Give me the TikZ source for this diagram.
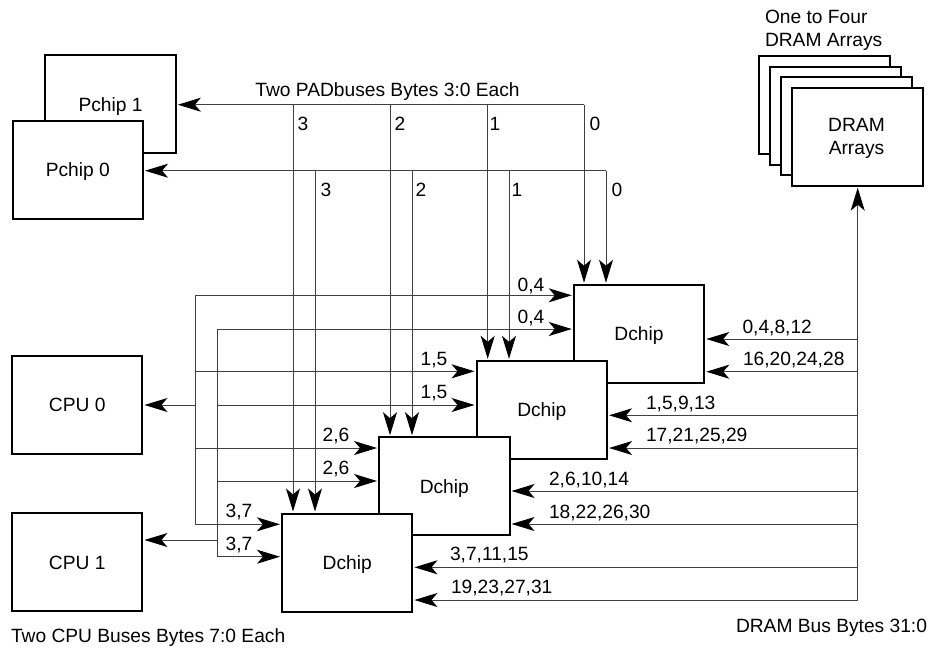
\documentclass[tikz,border=0pt]{standalone}
\usepackage{fontspec}
\setmainfont{Liberation Sans}
\usetikzlibrary{arrows.meta}
\tikzset{
  box/.style={draw=black,fill=white,line width=2pt,inner sep=0pt,outer sep=0pt,minimum width=130.5pt,minimum height=98pt,font=\fontsize{19.2}{23}\selectfont,text depth=0pt},
  bus/.style={draw=black!75,line width=1pt},
  arr/.style={bus,-{Stealth[length=23pt,width=14pt,inset=6pt,black]},shorten >=2pt},
  lab/.style={inner sep=0pt,outer sep=0pt,font=\fontsize{19.2}{23}\selectfont,anchor=mid,yshift=-3pt},
  labl/.style={lab,anchor=mid west,align=left},
  labc/.style={lab,align=center}
}
\begin{document}
\begin{tikzpicture}[x=1pt,y=-1pt]
\useasboundingbox (0,0) rectangle (931,649);
% boxes
\node[box] (p1) at (110.6,104.3) {Pchip 1};
\node[box] (p0) at (77.8,170) {Pchip 0};
\node[box] (cpu0) at (77.2,405) {CPU 0};
\node[box] (cpu1) at (77.2,562.3) {CPU 1};
\node[box] (da) at (639,333.7) {Dchip};
\node[box] (db) at (541.8,409.8) {Dchip};
\node[box] (dc) at (444.3,486.2) {Dchip};
\node[box] (dd) at (347.2,562.5) {Dchip};
\node[box] (m3) at (824.5,105) {};
\node[box] (m2) at (835.5,115.7) {};
\node[box] (m1) at (846.5,126) {};
\node[box] (m0) at (857.5,136.7) {};
\node[labc] (lm) at (856.5,149) {DRAM\\Arrays};
% PAD buses
\coordinate (t0) at (584,104.7);
\coordinate (t1) at (487.7,104.7);
\coordinate (t2) at (390,104.7);
\coordinate (t3) at (293,104.7);
\coordinate (u0) at (606,170.7);
\coordinate (u1) at (509,170.7);
\coordinate (u2) at (412,170.7);
\coordinate (u3) at (315,170.7);
\draw[arr] (t0) -- (t0 -| p1.east);
\draw[arr] (u0) -- (u0 -| p0.east);
\draw[arr] (t0) -- (t0 |- da.north);
\draw[arr] (u0) -- (u0 |- da.north);
\draw[arr] (t1) -- (t1 |- db.north);
\draw[arr] (u1) -- (u1 |- db.north);
\draw[arr] (t2) -- (t2 |- dc.north);
\draw[arr] (u2) -- (u2 |- dc.north);
\draw[arr] (t3) -- (t3 |- dd.north);
\draw[arr] (u3) -- (u3 |- dd.north);
% CPU buses
\coordinate (v0) at (195,295.3);
\coordinate (v1) at (195,371.3);
\coordinate (v2) at (195,448);
\coordinate (v3) at (195,524.3);
\coordinate (w0) at (217.7,329);
\coordinate (w1) at (217.7,405);
\coordinate (w2) at (217.7,481);
\coordinate (w3) at (217.7,556.7);
\coordinate (vc) at (195,405);
\coordinate (wc) at (217.7,540);
\draw[arr] (v3) -- (v3 -| dd.west);
\draw[arr] (w3) -- (w3 -| dd.west);
\draw[arr] (v0) -- (v0 -| da.west);
\draw[arr] (w0) -- (w0 -| da.west);
\draw[arr] (v1) -- (v1 -| db.west);
\draw[arr] (w1) -- (w1 -| db.west);
\draw[arr] (v2) -- (v2 -| dc.west);
\draw[arr] (w2) -- (w2 -| dc.west);
\draw[bus] (v0) -- (v3);
\draw[bus] (w0) -- (w3);
\draw[arr] (vc) -- (vc -| cpu0.east);
\draw[arr] (wc) -- (wc -| cpu1.east);
% DRAM bus
\coordinate (r0) at (857.7,339);
\coordinate (r1) at (857.7,371.7);
\coordinate (r2) at (857.7,415.3);
\coordinate (r3) at (857.7,448);
\coordinate (r4) at (857.7,491);
\coordinate (r5) at (857.7,524);
\coordinate (r6) at (857.7,567.3);
\coordinate (r7) at (857.7,600);
\draw[arr] (r0) -- (r0 -| da.east);
\draw[arr] (r1) -- (r1 -| da.east);
\draw[arr] (r2) -- (r2 -| db.east);
\draw[arr] (r3) -- (r3 -| db.east);
\draw[arr] (r4) -- (r4 -| dc.east);
\draw[arr] (r5) -- (r5 -| dc.east);
\draw[arr] (r6) -- (r6 -| dd.east);
\draw[arr] (r7) -- (r7 -| dd.east);
\draw[arr] (r7) -- (r7 |- m0.south);
% labels
\node[lab] (lpad) at (387.5,91) {Two PADbuses Bytes 3:0 Each};
\node[lab] (l1) at (303,125) {3};
\node[lab] (l2) at (400,125) {2};
\node[lab] (l3) at (495,125) {1};
\node[lab] (l4) at (595,125) {0};
\node[lab] (l5) at (326,191) {3};
\node[lab] (l6) at (421,191) {2};
\node[lab] (l7) at (517,191) {1};
\node[lab] (l8) at (617,191) {0};
\node[lab] (l9) at (531,286) {0,4};
\node[lab] (l10) at (531,318) {0,4};
\node[lab] (l11) at (434,360) {1,5};
\node[lab] (l12) at (434,393) {1,5};
\node[lab] (l13) at (336,436) {2,6};
\node[lab] (l14) at (336,469) {2,6};
\node[lab] (l15) at (239,512) {3,7};
\node[lab] (l16) at (239,545) {3,7};
\node[labl] (r10) at (742.5,328) {0,4,8,12};
\node[labl] (r11) at (743,360) {16,20,24,28};
\node[labl] (r12) at (646,404) {1,5,9,13};
\node[labl] (r13) at (646,435.5) {17,21,25,29};
\node[labl] (r14) at (549,480) {2,6,10,14};
\node[labl] (r15) at (549,513) {18,22,26,30};
\node[labl] (r16) at (450,555) {3,7,11,15};
\node[labl] (r17) at (451,588) {19,23,27,31};
\node[labl] (lone) at (765,41) {One to Four\\DRAM Arrays};
\node[labl] (lcpu) at (11,637) {Two CPU Buses Bytes 7:0 Each};
\node[labl] (ldram) at (736,627) {DRAM Bus Bytes 31:0};
\end{tikzpicture}
\end{document}
